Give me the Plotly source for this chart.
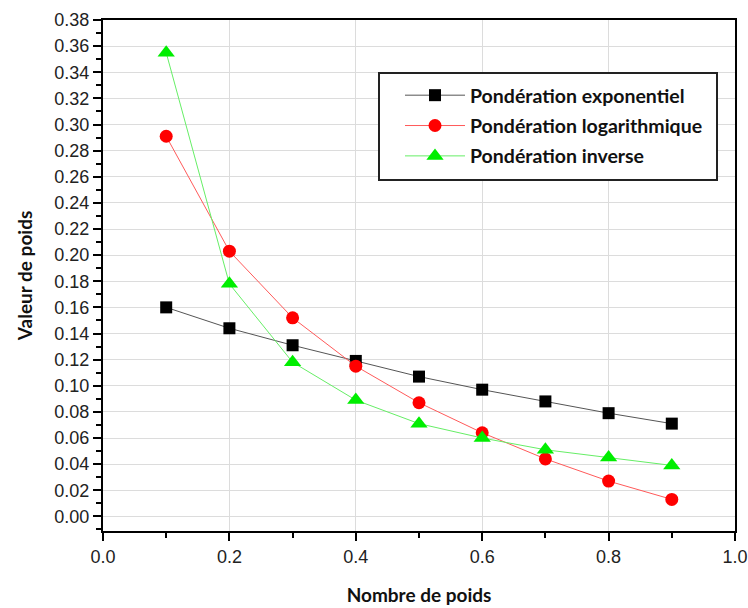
import plotly.graph_objects as go

# Weight position (x axis)
nombre_poids = [0.1, 0.2, 0.3, 0.4, 0.5, 0.6, 0.7, 0.8, 0.9]

# Weight values for each weighting scheme
exponentiel = [0.160, 0.144, 0.131, 0.119, 0.107, 0.097, 0.088, 0.079, 0.071]
logarithmique = [0.291, 0.203, 0.152, 0.115, 0.087, 0.064, 0.044, 0.027, 0.013]
inverse = [0.355, 0.178, 0.118, 0.089, 0.071, 0.060, 0.051, 0.045, 0.039]

series = [
    ("Pondération exponentiel", exponentiel, "#000000", "#555555", "square", 12),
    ("Pondération logarithmique", logarithmique, "#ff0000", "#ff5a5a", "circle", 13),
    ("Pondération inverse", inverse, "#00ee00", "#66ee66", "triangle-up", 15),
]

fig = go.Figure()
for name, vals, mcol, lcol, sym, size in series:
    fig.add_trace(go.Scatter(
        x=nombre_poids, y=vals, name=name, legendgroup=name,
        mode="lines+markers",
        line=dict(color=lcol, width=1),
        marker=dict(color=mcol, symbol=sym, size=size, line=dict(width=0)),
    ))

axis_common = dict(
    showline=True, linecolor="#000000", linewidth=2, mirror=True,
    showgrid=True, gridcolor="#dcdcdc", gridwidth=1,
    ticks="outside", ticklen=8, tickwidth=2, tickcolor="#000000",
    tickfont=dict(family="Liberation Sans, Arial", size=18, color="#222222"),
    zeroline=False, automargin=False,
)

title_font = dict(family="Lato", size=19, color="#111111", weight="bold")

fig.update_xaxes(
    range=[0, 1], dtick=0.2, tickformat=".1f",
    minor=dict(dtick=0.1, ticks="outside", ticklen=5, tickwidth=2, tickcolor="#000000", showgrid=False),
    title=dict(text="Nombre de poids", font=title_font, standoff=23),
    **axis_common,
)
fig.update_yaxes(
    range=[-0.0112, 0.38], tick0=0, dtick=0.02, tickformat=".2f",
    minor=dict(dtick=0.01, ticks="outside", ticklen=5, tickwidth=2, tickcolor="#000000", showgrid=False),
    title=dict(text="Valeur de poids", font=title_font, standoff=17),
    **axis_common,
)

# Legend frame
fig.add_shape(
    type="rect", xref="paper", yref="paper",
    x0=(379 - 103) / 632, x1=(717 - 103) / 632,
    y0=(531 - 180) / 511, y1=(531 - 73) / 511,
    line=dict(color="#222222", width=2), fillcolor="#ffffff", layer="above",
)

fig.update_layout(
    width=748, height=608,
    margin=dict(l=103, r=13, t=20, b=77, autoexpand=False),
    plot_bgcolor="#ffffff", paper_bgcolor="#ffffff",
    legend=dict(
        x=(400 - 103) / 632, y=(531 - 76) / 511, xanchor="left", yanchor="top",
        bgcolor="rgba(0,0,0,0)", borderwidth=0,
        font=dict(family="Lato", size=19.5, color="#111111", weight="bold"),
        itemwidth=60, tracegroupgap=2, traceorder="grouped",
    ),
    showlegend=True,
)

fig.write_html("out.html")
